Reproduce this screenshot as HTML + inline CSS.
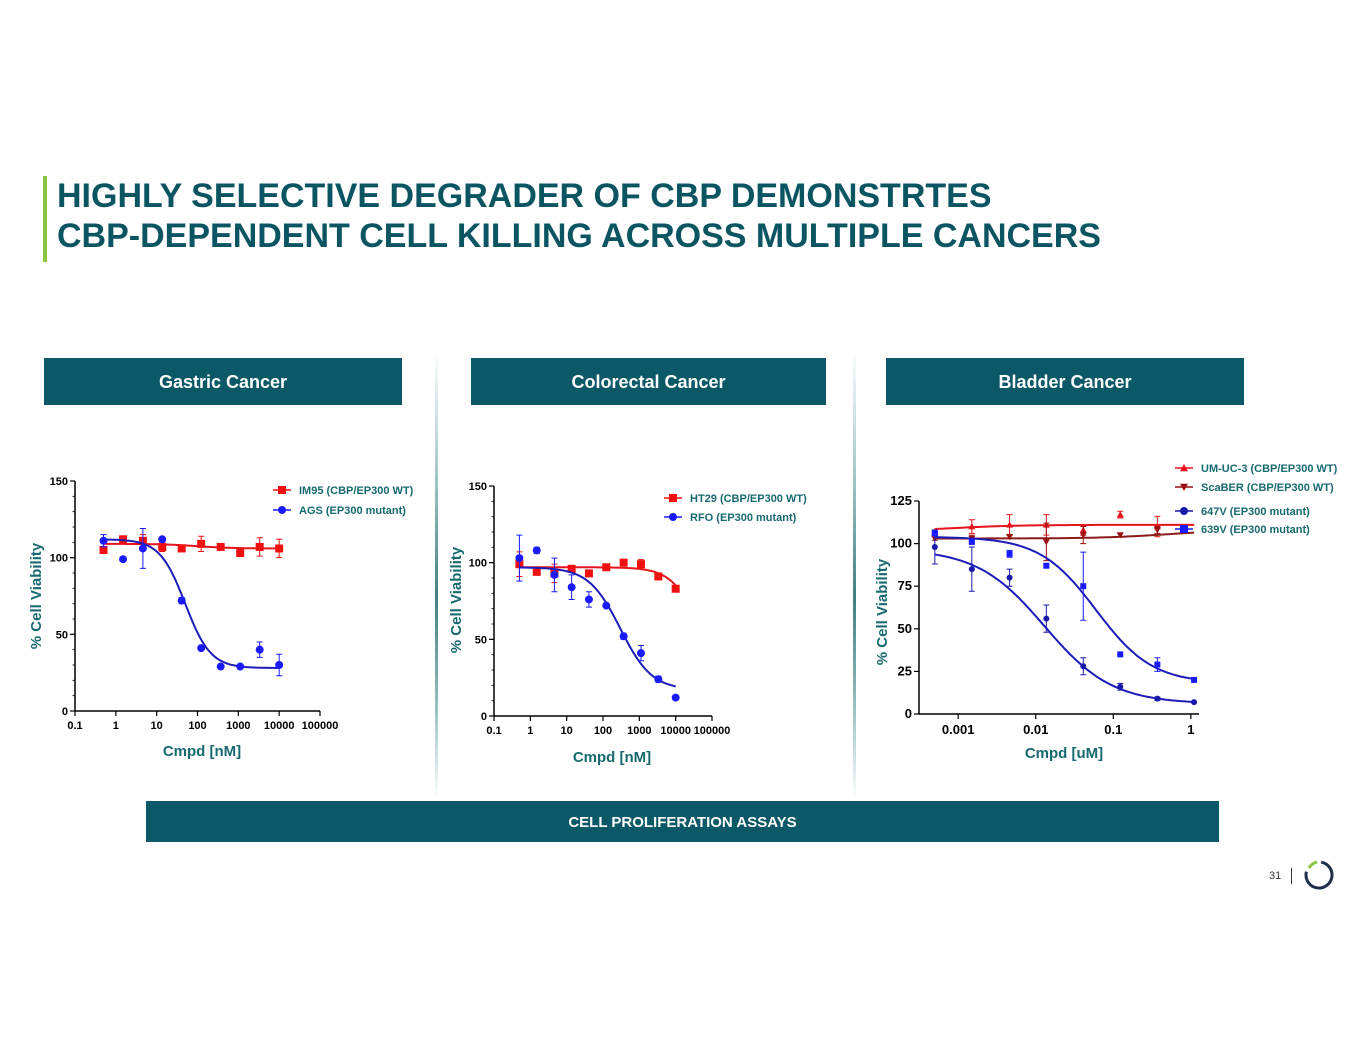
<!DOCTYPE html>
<html><head><meta charset="utf-8">
<style>
body{margin:0;width:1365px;height:1055px;background:#fff;font-family:"Liberation Sans",sans-serif;position:relative;overflow:hidden}
.abs{position:absolute}
.hdr{position:absolute;background:#0b5866;color:#fff;font-weight:bold;font-size:18px;display:flex;align-items:center;justify-content:center;padding-top:2px;box-sizing:border-box}
.sep{position:absolute;width:3px;top:350px;height:450px;background:linear-gradient(#fff,#9cc2c4 30%,#3f7f82 55%,#9cc2c4 80%,#fff)}
</style></head><body>
<div class="abs" style="left:43px;top:176px;width:4px;height:86px;background:#8cc63f"></div>
<div class="abs" style="left:57px;top:176px;color:#0b5563;font-weight:bold;font-size:34px;line-height:40px">HIGHLY SELECTIVE DEGRADER OF CBP DEMONSTRTES<br>CBP-DEPENDENT CELL KILLING ACROSS MULTIPLE CANCERS</div>
<div class="hdr" style="left:44px;top:358px;width:358px;height:47px">Gastric Cancer</div>
<div class="hdr" style="left:471px;top:358px;width:355px;height:47px">Colorectal Cancer</div>
<div class="hdr" style="left:886px;top:358px;width:358px;height:47px">Bladder Cancer</div>
<div class="sep" style="left:435px"></div>
<div class="sep" style="left:853px"></div>
<div class="hdr" style="left:146px;top:801px;width:1073px;height:41px;font-size:15px">CELL PROLIFERATION ASSAYS</div>
<div class="abs" style="left:1269px;top:870px;font-size:11px;color:#333">31</div>
<div class="abs" style="left:1291px;top:868px;width:1px;height:16px;background:#333"></div>
<svg class="abs" style="left:1303px;top:859px" width="32" height="32" viewBox="0 0 32 32">
<circle cx="16" cy="16" r="13" fill="none" stroke="#1d2f4a" stroke-width="3" stroke-dasharray="62 100" transform="rotate(-80 16 16)"/>
<path d="M6 9 A13 13 0 0 1 14 3" fill="none" stroke="#8cc63f" stroke-width="3"/>
</svg>
<svg id="chart" class="abs" style="left:0;top:0" width="1365" height="1055"></svg>
<script>
// ---- Chart 1: Gastric ----
const g_x = [0.5,1.5,4.6,13.7,41,123,370,1111,3333,10000];
const g_red = [105,112,111,107,106,109,107,103,107,106];
const g_redErr = [2,1,4,3,1,5,2,1,6,6];
const g_blue = [111,99,106,112,72,41,29,29,40,30];
const g_blueErr = [4,0,13,0,2,0,0,0,5,7];
const g_redFit = [109,106,100,1];     // top,bottom,ic50,hill
const g_blueFit = [112,28,50,1.4];
const g_xTicks = ["0.1","1","10","100","1000","10000","100000"];
const g_yTicks = [0,50,100,150];
// ---- Chart 2: Colorectal ----
const c_x = [0.5,1.5,4.6,13.7,41,123,370,1111,3333,10000];
const c_red = [99,94,93,96,93,97,100,99,91,83];
const c_redErr = [8,1,6,2,2,1,1,3,1,1];
const c_blue = [103,108,92,84,76,72,52,41,24,12];
const c_blueErr = [15,2,11,8,5,1,2,5,2,0];
const c_redFit = [97,0,60000,1.1];
const c_blueFit = [97,17,300,1];
const c_xTicks = ["0.1","1","10","100","1000","10000","100000"];
const c_yTicks = [0,50,100,150];
// ---- Chart 3: Bladder ----
const b_x = [0.0005,0.0015,0.0046,0.0137,0.041,0.123,0.37,1.1];
const b_um = [107,110,111,111,108,117,110,null];
const b_umErr = [1,4,6,6,3,2,6,0];
const b_sca = [103,103,104,101,105,105,108,null];
const b_scaErr = [1,2,1,11,5,1,2,0];
const b_647 = [98,85,80,56,28,16,9,7];
const b_647Err = [10,13,5,8,5,2,1,0];
const b_639 = [106,101,94,87,75,35,29,20];
const b_639Err = [1,1,2,1,20,0,4,0];
const b_umFit = [107,111,0.0008,1];
const b_scaFit = [103,108,0.5,1];
const b_647Fit = [97,6,0.013,1];
const b_639Fit = [104,18,0.06,1.2];
const b_xTicks = ["0.001","0.01","0.1","1"];
const b_yTicks = [0,25,50,75,100,125];

const svg = document.getElementById('chart');
const NS = 'http://www.w3.org/2000/svg';
function mk(tag, attrs, parent){const e=document.createElementNS(NS,tag);for(const k in attrs)e.setAttribute(k,attrs[k]);(parent||svg).appendChild(e);return e;}
const fourPL = (p,x)=>p[1]+(p[0]-p[1])/(1+Math.pow(x/p[2],p[3]));

function axes(cfg){
  const sx = v=>cfg.x0+(Math.log10(v)-cfg.lmin)/(cfg.lmax-cfg.lmin)*(cfg.x1-cfg.x0);
  const sy = v=>cfg.y0-(v-cfg.ymin)/(cfg.ymax-cfg.ymin)*(cfg.y0-cfg.y1);
  const g = mk('g',{});
  
  
  const ax = mk('path',{d:`M${cfg.x0} ${cfg.y1}V${cfg.y0}H${cfg.x1}`,stroke:'#000','stroke-width':1.5,fill:'none'},g);
  
  
  cfg.yTicks.forEach(t=>{
    mk('line',{x1:cfg.x0-5,x2:cfg.x0,y1:sy(t),y2:sy(t),stroke:'#000','stroke-width':1.2},g);
    const tx=mk('text',{x:cfg.x0-7,y:sy(t)+4,'text-anchor':'end','font-size':cfg.fs,'font-weight':'bold'},g);
    tx.textContent=t;
    
    
  });
  if(cfg.minorY){for(let v=cfg.ymin;v<=cfg.ymax;v+=cfg.minorY)mk('line',{x1:cfg.x0-2.5,x2:cfg.x0,y1:sy(v),y2:sy(v),stroke:'#000','stroke-width':0.8},g);}
  cfg.xTicks.forEach(t=>{
    const v=parseFloat(t);
    mk('line',{x1:sx(v),x2:sx(v),y1:cfg.y0,y2:cfg.y0+5,stroke:'#000','stroke-width':1.2},g);
    const tx=mk('text',{x:sx(v),y:cfg.y0+cfg.fs+7,'text-anchor':'middle','font-size':cfg.fs,'font-weight':'bold'},g);
    tx.textContent=t;
    
    
  });
  if(cfg.minorX){for(let d=Math.floor(cfg.lmin);d<cfg.lmax;d++)for(let m=2;m<10;m++){const v=m*Math.pow(10,d);if(Math.log10(v)>cfg.lmin&&Math.log10(v)<cfg.lmax)mk('line',{x1:sx(v),x2:sx(v),y1:cfg.y0,y2:cfg.y0+2.5,stroke:'#000','stroke-width':0.7},g);}}
  const xl=mk('text',{x:cfg.xlx,y:cfg.xly,'text-anchor':'middle','font-size':15,'font-weight':'bold',fill:'#176a70'},g);
  xl.textContent=cfg.xlabel;
  
  
  const yl=mk('text',{x:0,y:0,'text-anchor':'middle','font-size':15,'font-weight':'bold',fill:'#176a70',transform:`translate(${cfg.ylx},${cfg.yly}) rotate(-90)`},g);
  yl.textContent='% Cell Viability';
  
  
  return {sx,sy,g};
}
function marker(g,shape,x,y,c,s){
  let e;
  if(shape==='sq') e=mk('rect',{x:x-s,y:y-s,width:2*s,height:2*s,fill:c},g);
  else if(shape==='ci') e=mk('circle',{cx:x,cy:y,r:s,fill:c},g);
  else if(shape==='up') e=mk('path',{d:`M${x} ${y-s}L${x+s} ${y+s*0.8}L${x-s} ${y+s*0.8}Z`,fill:c},g);
  else e=mk('path',{d:`M${x} ${y+s}L${x+s} ${y-s*0.8}L${x-s} ${y-s*0.8}Z`,fill:c},g);
  return e;
}
function series(A,name,xs,ys,errs,fit,color,lineColor,shape,s,lx0,lx1){
  const g=mk('g',{},A.g);
  
  
  let d='';
  for(let i=0;i<=120;i++){const l=lx0+(lx1-lx0)*i/120;const v=Math.pow(10,l);d+=(i?'L':'M')+A.sx(v).toFixed(1)+' '+A.sy(fourPL(fit,v)).toFixed(1);}
  const p=mk('path',{d,stroke:lineColor,'stroke-width':2,fill:'none'},g);
  
  
  xs.forEach((x,i)=>{
    if(ys[i]==null)return;
    const px=A.sx(x),py=A.sy(ys[i]);
    if(errs[i]>0){const e1=A.sy(ys[i]+errs[i]),e2=A.sy(ys[i]-errs[i]);
      mk('path',{d:`M${px} ${e1}V${e2}M${px-3} ${e1}H${px+3}M${px-3} ${e2}H${px+3}`,stroke:color,'stroke-width':1,fill:'none'},g);}
    const m=marker(g,shape,px,py,color,s);
    
    
  });
}
function legend(g,x,y,shape,color,label){
  mk('line',{x1:x-9,x2:x+9,y1:y,y2:y,stroke:color,'stroke-width':1.5},g);
  const m=marker(g,shape,x,y,color,4);
  const t=mk('text',{x:x+17,y:y+4,'font-size':11,'font-weight':'bold',fill:'#176a70'},g);
  t.textContent=label;
  
  
}

// Chart 1
const A1=axes({name:'gastric-chart',x0:75,x1:320,y0:711,y1:481,lmin:-1,lmax:5,ymin:0,ymax:150,xTicks:g_xTicks,yTicks:g_yTicks,fs:11,minorY:10,minorX:false,xlabel:'Cmpd [nM]',xlx:202,xly:756,ylx:41,yly:596});
series(A1,'im95-series',g_x,g_red,g_redErr,g_redFit,'#f01010','#e8141c','sq',4,Math.log10(0.5),4);
series(A1,'ags-series',g_x,g_blue,g_blueErr,g_blueFit,'#1a1aff','#1c1cb8','ci',4,Math.log10(0.5),4);
legend(A1.g,282,490,'sq','#f01010','IM95 (CBP/EP300 WT)');
legend(A1.g,282,510,'ci','#1a1aff','AGS (EP300 mutant)');
// Chart 2
const A2=axes({name:'colorectal-chart',x0:494,x1:712,y0:716,y1:486,lmin:-1,lmax:5,ymin:0,ymax:150,xTicks:c_xTicks,yTicks:c_yTicks,fs:11,minorY:10,minorX:false,xlabel:'Cmpd [nM]',xlx:612,xly:762,ylx:461,yly:600});
series(A2,'ht29-series',c_x,c_red,c_redErr,c_redFit,'#f01010','#e8141c','sq',4,Math.log10(0.5),4);
series(A2,'rfo-series',c_x,c_blue,c_blueErr,c_blueFit,'#1a1aff','#1c1cb8','ci',4,Math.log10(0.5),4);
legend(A2.g,673,498,'sq','#f01010','HT29 (CBP/EP300 WT)');
legend(A2.g,673,517,'ci','#1a1aff','RFO (EP300 mutant)');
// Chart 3
const A3=axes({name:'bladder-chart',x0:919,x1:1199,y0:714,y1:501,lmin:-3.505,lmax:0.105,ymin:0,ymax:125,xTicks:b_xTicks,yTicks:b_yTicks,fs:13,minorY:0,minorX:false,xlabel:'Cmpd [uM]',xlx:1064,xly:758,ylx:887,yly:612});
series(A3,'um-uc-3-series',b_x,b_um,b_umErr,b_umFit,'#e8141c','#e8141c','up',3.5,Math.log10(0.0005),Math.log10(1.1));
series(A3,'scaber-series',b_x,b_sca,b_scaErr,b_scaFit,'#9b1010','#8b1a1a','dn',3.5,Math.log10(0.0005),Math.log10(1.1));
series(A3,'647v-series',b_x,b_647,b_647Err,b_647Fit,'#1a1aaa','#1c1cb8','ci',3,Math.log10(0.0005),Math.log10(1.1));
series(A3,'639v-series',b_x,b_639,b_639Err,b_639Fit,'#1a1aff','#1c1cb8','sq',3,Math.log10(0.0005),Math.log10(1.1));
legend(A3.g,1184,468,'up','#e8141c','UM-UC-3 (CBP/EP300 WT)');
legend(A3.g,1184,487,'dn','#9b1010','ScaBER (CBP/EP300 WT)');
legend(A3.g,1184,511,'ci','#1a1aaa','647V (EP300 mutant)');
legend(A3.g,1184,529,'sq','#1a1aff','639V (EP300 mutant)');
</script>
</body></html>
